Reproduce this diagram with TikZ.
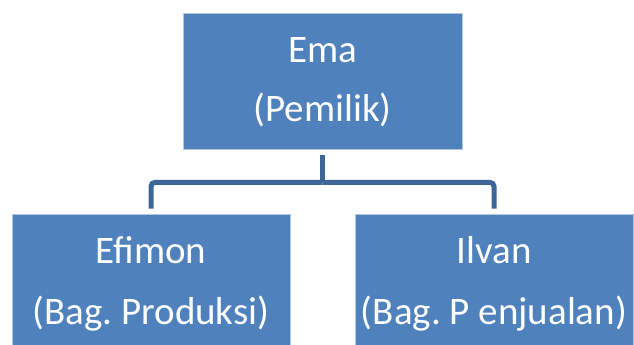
\documentclass[tikz,border=0pt]{standalone}
\usepackage{fontspec}
\setmainfont{Carlito}
\frenchspacing
\definecolor{boxfill}{HTML}{4F81BD}
\definecolor{boxedge}{HTML}{B4C6E0}
\definecolor{connclr}{HTML}{3D6597}
\begin{document}
\begin{tikzpicture}[x=1pt,y=1pt,
  orgbox/.style={rectangle, fill=boxfill, draw=boxedge, line width=0.8pt, inner sep=0pt},
  lbl/.style={anchor=base, text=white, font=\fontsize{39}{46}\selectfont, inner sep=0pt},
  conn/.style={draw=connclr, line width=5pt, rounded corners=4pt}]
\useasboundingbox (0,0) rectangle (634,345);
\node[orgbox, minimum width=278.7pt, minimum height=136.2pt] (top) at (322.65,263.6) {};
\node[orgbox, minimum width=278pt, minimum height=133pt] (left) at (151,64.5) {};
\node[orgbox, minimum width=278pt, minimum height=133pt] (right) at (494,64.5) {};
\node[lbl] (t1) at (322.65,282.3) {Ema};
\node[lbl] (t2) at (322.65,223.3) {(Pemilik)};
\node[lbl] (l1) at (151,81.7) {Efimon};
\node[lbl] (l2) at (151,20) {(Bag. Produksi)};
\node[lbl] (r1) at (494,81.7) {Ilvan};
\node[lbl] (r2) at (494,20) {(Bag. P enjualan)};
\coordinate (hub) at ([yshift=-32.5pt]top.south);
\draw[conn] ([yshift=-5.5pt]top.south) -- (hub);
\draw[conn] (hub) -| ([yshift=5pt]left.north);
\draw[conn] (hub) -| ([yshift=5pt]right.north);
\end{tikzpicture}
\end{document}
